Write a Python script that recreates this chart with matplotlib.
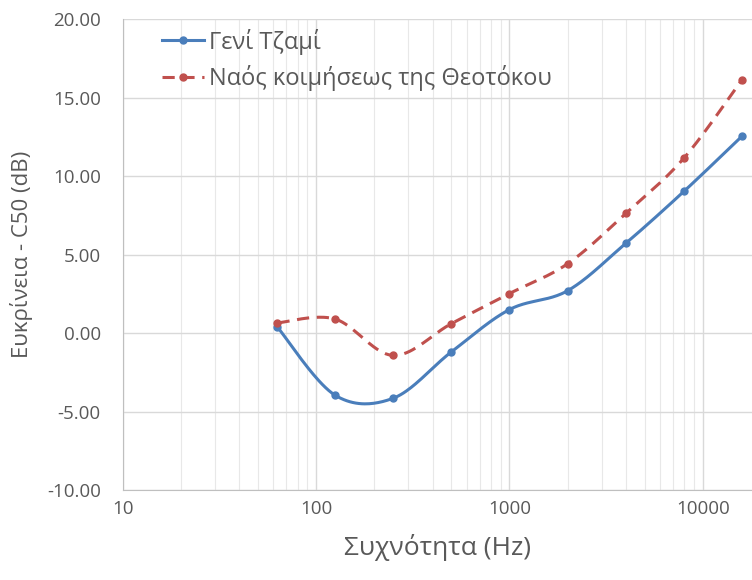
import numpy as np
import matplotlib
matplotlib.use("Agg")
import matplotlib.pyplot as plt

freqs = [63, 125, 250, 500, 1000, 2000, 4000, 8000, 16000]
geni_tzami = [0.38, -3.95, -4.15, -1.2, 1.5, 2.7, 5.72, 9.03, 12.55]
naos = [0.65, 0.9, -1.42, 0.6, 2.52, 4.42, 7.62, 11.15, 16.15]
labels = ["Γενί Τζαμί", "Ναός κοιμήσεως της Θεοτόκου"]


def smooth(xs, ys, n=40):
    # Excel-style smoothed line: cubic bezier with catmull-rom control points, in log-x
    lx = np.log10(xs)
    y = np.array(ys, dtype=float)
    px = np.concatenate([[lx[0]], lx, [lx[-1]]])
    py = np.concatenate([[y[0]], y, [y[-1]]])
    outx, outy = [], []
    t = np.linspace(0, 1, n)
    for i in range(1, len(px) - 2):
        p0 = np.array([px[i], py[i]])
        p3 = np.array([px[i + 1], py[i + 1]])
        c1 = p0 + (np.array([px[i + 1], py[i + 1]]) - np.array([px[i - 1], py[i - 1]])) / 6
        c2 = p3 - (np.array([px[i + 2], py[i + 2]]) - np.array([px[i], py[i]])) / 6
        b = ((1 - t) ** 3)[:, None] * p0 + (3 * (1 - t) ** 2 * t)[:, None] * c1 \
            + (3 * (1 - t) * t ** 2)[:, None] * c2 + (t ** 3)[:, None] * p3
        outx.extend(b[:, 0])
        outy.extend(b[:, 1])
    return 10 ** np.array(outx), np.array(outy)


plt.rcParams['font.family'] = ['Open Sans', 'DejaVu Sans']
gray = '#595959'

fig = plt.figure(figsize=(7.52, 5.8), dpi=100)
ax = fig.add_axes([0.1636, 0.155, 0.8364, 0.812])

blue = '#4a7ebb'
red = '#c0504d'
sx, sy = smooth(freqs, geni_tzami)
ax.plot(sx, sy, color=blue, lw=2.2)
ax.plot(freqs, geni_tzami, 'o', color=blue, ms=5)
ax.plot([], [], '-o', color=blue, lw=2.2, ms=5, label=labels[0])
sx, sy = smooth(freqs, naos)
ax.plot(sx, sy, color=red, lw=2.2, dashes=(4, 2.5))
ax.plot(freqs, naos, 'o', color=red, ms=5)
ax.plot([], [], '--o', color=red, lw=2.2, ms=5, dashes=(4, 2.5), label=labels[1])

ax.set_xscale('log')
ax.set_xlim(10, 18000)
ax.set_ylim(-10, 20)
ax.set_yticks(np.arange(-10, 21, 5))
ax.set_yticklabels([f"{v:.2f}" for v in np.arange(-10, 21, 5)])
ax.set_xticks([10, 100, 1000, 10000])
ax.set_xticklabels(["10", "100", "1000", "10000"])

ax.grid(which='major', color='#d9d9d9', lw=1)
ax.grid(which='minor', axis='x', color='#e8e8e8', lw=0.8)
ax.set_axisbelow(True)
for s in ['top', 'right']:
    ax.spines[s].set_visible(False)
for s in ['left', 'bottom']:
    ax.spines[s].set_color('#bfbfbf')
ax.tick_params(which='both', length=0, colors=gray, labelsize=13.5)
ax.tick_params(axis='x', pad=7)
ax.tick_params(axis='y', pad=16)

ax.set_xlabel("Συχνότητα (Hz)", fontsize=19, color=gray, labelpad=12)
ax.set_ylabel("Ευκρίνεια - C50 (dB)", fontsize=16, color=gray, labelpad=10)

leg = ax.legend(loc='upper left', bbox_to_anchor=(0.028, 1.025), frameon=False,
                fontsize=17, handlelength=1.8, handletextpad=0.2, labelspacing=0.45)
for t in leg.get_texts():
    t.set_color(gray)

fig.savefig("out.png", dpi=100)
